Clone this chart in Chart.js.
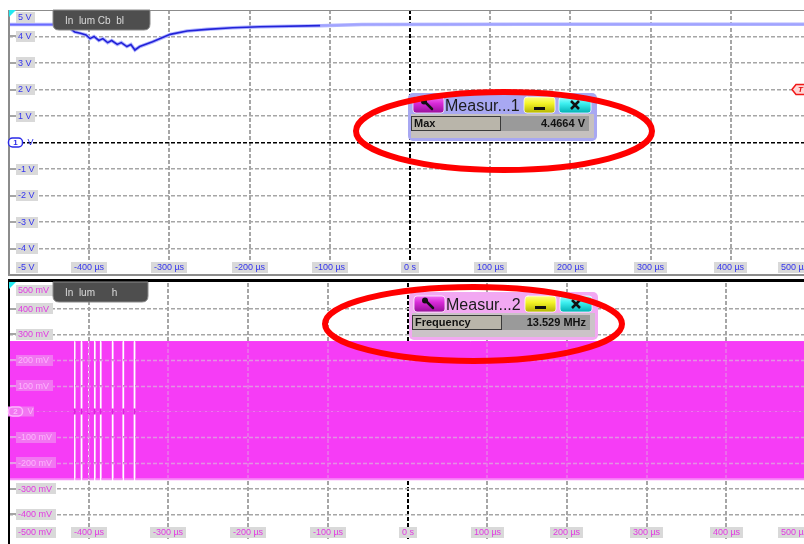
<!DOCTYPE html>
<html>
<head>
    <title>Scope Measurements</title>
    <script src="https://cdn.jsdelivr.net/npm/chart.js"></script>
    <style>
        html, body { margin: 0; padding: 0; background: #fff; }
        #wrap { position: relative; width: 804px; height: 544px; overflow: hidden; }
        #wrap canvas { position: absolute; left: 0; }
        #ch1 { top: 0; }
        #ch2 { top: 277px; }
    </style>
</head>
<body>
<div id="wrap">
    <canvas id="ch1" width="812" height="277"></canvas>
    <canvas id="ch2" width="812" height="269"></canvas>
</div>

<script>
    // Time axis, microseconds
    const timeTicks = [-400, -300, -200, -100, 0, 100, 200, 300, 400, 500];
    const timeTickLabels = ['-400 µs', '-300 µs', '-200 µs', '-100 µs', '0 s', '100 µs', '200 µs', '300 µs', '400 µs', '500 µs'];

    // Channel 1 (volts)
    const ch1Ticks = [5, 4, 3, 2, 1, -1, -2, -3, -4, -5];
    const ch1TickLabels = ['5 V', '4 V', '3 V', '2 V', '1 V', '-1 V', '-2 V', '-3 V', '-4 V', '-5 V'];
    const ch1Time = [-500, -443, -427, -421, -418, -411, -404, -399, -394, -388, -383, -377, -372, -365, -360,
                     -353, -348, -343, -337, -321, -299, -278, -253, -221, -187, -112, -60, 150, 500];
    const ch1Volts = [4.45, 4.45, 4.44, 4.24, 4.17, 4.12, 4.06, 3.92, 4.00, 3.85, 3.92, 3.77, 3.85, 3.70, 3.77,
                      3.62, 3.70, 3.49, 3.62, 3.80, 4.08, 4.21, 4.27, 4.33, 4.37, 4.41, 4.45, 4.4664, 4.46];

    // Channel 2 (millivolts): envelope of the clock plus the dropouts
    const ch2Ticks = [500, 400, 300, 200, 100, -100, -200, -300, -400, -500];
    const ch2TickLabels = ['500 mV', '400 mV', '300 mV', '200 mV', '100 mV', '-100 mV', '-200 mV', '-300 mV', '-400 mV', '-500 mV'];
    const ch2High = 272;
    const ch2Low = -264;
    const ch2GapTimes = [-417.5, -409, -400, -392.5, -385, -370, -356.5, -342.5];
    const ch2GapWidths = [1.4, 1.8, 0.8, 1.8, 1.8, 1.8, 1.8, 1.8];

    const meas1 = { title: 'Measur...1', label: 'Max', value: '4.4664 V' };
    const meas2 = { title: 'Measur...2', label: 'Frequency', value: '13.529 MHz' };

    const labelFont = '9px "Liberation Sans", Arial, sans-serif';
    const gridGray = '#a6a6a6';

    function roundRectPath(ctx, x, y, w, h, r) {
        ctx.beginPath();
        ctx.moveTo(x + r, y);
        ctx.arcTo(x + w, y, x + w, y + h, r);
        ctx.arcTo(x + w, y + h, x, y + h, r);
        ctx.arcTo(x, y + h, x, y, r);
        ctx.arcTo(x, y, x + w, y, r);
        ctx.closePath();
    }

    // Gray label boxes for the volt and time ticks, drawn inside the plot
    function drawTickLabels(chart, yTicks, yLabels, textColor, onBand) {
        const { ctx, chartArea: a, scales } = chart;
        const yMin = a.top + 7, yMax = a.bottom - 7.5;
        ctx.save();
        ctx.font = labelFont;
        ctx.textBaseline = 'middle';
        ctx.textAlign = 'left';
        yTicks.forEach((v, i) => {
            const py = scales.y.getPixelForValue(v);
            const cy = Math.min(Math.max(py, yMin), yMax);
            const band = onBand && onBand(v);
            const text = yLabels[i];
            const w = Math.ceil(ctx.measureText(text).width) + 5;
            if (py > a.top + 2 && py < a.bottom - 2) {
                ctx.fillStyle = band ? '#e69ce6' : gridGray;
                ctx.fillRect(a.left, Math.round(py) - 1, 8, 2);
            }
            ctx.fillStyle = band ? '#f276f2' : '#d9d9d9';
            ctx.fillRect(16, Math.round(cy - 5.5), w, 11);
            ctx.fillStyle = band ? '#fcb6fc' : textColor;
            ctx.fillText(text, 18, cy + 0.5);
        });
        ctx.textAlign = 'center';
        timeTicks.forEach((t, i) => {
            const px = scales.x.getPixelForValue(t);
            const text = timeTickLabels[i];
            const w = Math.ceil(ctx.measureText(text).width) + 5;
            let left = Math.round(px - w / 2);
            left = Math.min(left, chart.width - 1 - w);
            ctx.fillStyle = '#d9d9d9';
            ctx.fillRect(left, Math.round(yMax - 5.5), w, 11);
            ctx.fillStyle = textColor;
            ctx.fillText(text, left + w / 2, yMax + 0.5);
        });
        ctx.restore();
    }

    function drawTab(ctx, x, y, w, h, text) {
        ctx.save();
        ctx.beginPath();
        ctx.moveTo(x, y);
        ctx.lineTo(x + w, y);
        ctx.lineTo(x + w, y + h - 6);
        ctx.quadraticCurveTo(x + w, y + h, x + w - 6, y + h);
        ctx.lineTo(x + 6, y + h);
        ctx.quadraticCurveTo(x, y + h, x, y + h - 6);
        ctx.closePath();
        ctx.fillStyle = '#4e4e4e';
        ctx.fill();
        ctx.strokeStyle = '#8a8a8a';
        ctx.lineWidth = 1;
        ctx.stroke();
        ctx.fillStyle = 'rgba(240,240,240,0.85)';
        ctx.font = '10px "Liberation Sans", Arial, sans-serif';
        ctx.textBaseline = 'middle';
        ctx.fillText(text, x + 12, y + h / 2 + 1);
        ctx.restore();
    }

    function drawCorner(ctx, x, y) {
        ctx.fillStyle = '#22e8f0';
        ctx.beginPath();
        ctx.moveTo(x, y);
        ctx.lineTo(x + 7, y);
        ctx.lineTo(x, y + 7);
        ctx.closePath();
        ctx.fill();
    }

    function drawChannelTag(ctx, x, cy, num, stroke, fill, textColor) {
        ctx.save();
        roundRectPath(ctx, x, cy - 4.5, 14, 9, 4);
        ctx.fillStyle = fill;
        ctx.fill();
        ctx.strokeStyle = stroke;
        ctx.lineWidth = 1.5;
        ctx.stroke();
        ctx.fillStyle = textColor;
        ctx.font = 'bold 8px "Liberation Sans", Arial, sans-serif';
        ctx.textBaseline = 'middle';
        ctx.textAlign = 'center';
        ctx.fillText(num, x + 7, cy + 0.5);
        ctx.font = labelFont;
        ctx.textAlign = 'left';
        ctx.fillText('V', x + 19, cy + 0.5);
        ctx.restore();
    }

    function button(ctx, x, y, w, h, top, mid, bottom) {
        const g = ctx.createLinearGradient(0, y, 0, y + h);
        g.addColorStop(0, top);
        g.addColorStop(0.4, mid);
        g.addColorStop(1, bottom);
        roundRectPath(ctx, x, y, w, h, 3);
        ctx.fillStyle = g;
        ctx.fill();
        ctx.strokeStyle = 'rgba(255,255,255,0.75)';
        ctx.lineWidth = 1;
        ctx.stroke();
    }

    // Measurement readout window
    function drawMeasBox(ctx, x, y, m, rim, body) {
        const w = 189, h = 48;
        ctx.save();
        roundRectPath(ctx, x, y, w, h, 5);
        ctx.fillStyle = rim;
        ctx.fill();
        ctx.fillStyle = body;
        ctx.fillRect(x + 3, y + 21, w - 6, h - 24);

        button(ctx, x + 5, y + 4, 31, 16, '#f46cf4', '#d82ad8', '#98109a');
        ctx.strokeStyle = '#111';
        ctx.fillStyle = '#111';
        ctx.lineWidth = 2.5;
        ctx.lineCap = 'round';
        ctx.beginPath();
        ctx.moveTo(x + 17, y + 9);
        ctx.lineTo(x + 24, y + 16);
        ctx.stroke();
        ctx.beginPath();
        ctx.arc(x + 16, y + 8.5, 3, 0, Math.PI * 2);
        ctx.fill();

        ctx.fillStyle = '#1c1c1c';
        ctx.font = '16px "Liberation Sans", Arial, sans-serif';
        ctx.textBaseline = 'alphabetic';
        ctx.fillText(m.title, x + 37, y + 18);

        button(ctx, x + 116, y + 4, 31, 16, '#ffff80', '#f4f428', '#b4b400');
        ctx.fillStyle = '#111';
        ctx.fillRect(x + 126, y + 14, 11, 3);

        button(ctx, x + 151, y + 4, 32, 16, '#a0ffff', '#3ef0f0', '#00b0b4');
        ctx.strokeStyle = '#111';
        ctx.lineWidth = 2.5;
        ctx.lineCap = 'butt';
        ctx.beginPath();
        ctx.moveTo(x + 163, y + 8); ctx.lineTo(x + 171, y + 16);
        ctx.moveTo(x + 171, y + 8); ctx.lineTo(x + 163, y + 16);
        ctx.stroke();

        ctx.fillStyle = '#b9b5aa';
        ctx.fillRect(x + 3, y + 23, 90, 15);
        ctx.fillStyle = '#9a9a9a';
        ctx.fillRect(x + 93, y + 23, 88, 15);
        ctx.strokeStyle = '#3a3a3a';
        ctx.lineWidth = 1;
        ctx.strokeRect(x + 3.5, y + 23.5, 89, 14);

        ctx.fillStyle = '#111';
        ctx.font = 'bold 11px "Liberation Sans", Arial, sans-serif';
        ctx.textBaseline = 'middle';
        ctx.fillText(m.label, x + 6, y + 31);
        ctx.textAlign = 'right';
        ctx.fillText(m.value, x + 177, y + 31);
        ctx.restore();
    }

    function drawEllipse(ctx, cx, cy, rx, ry) {
        ctx.save();
        ctx.strokeStyle = '#ff0000';
        ctx.lineWidth = 6;
        ctx.beginPath();
        ctx.ellipse(cx, cy, rx, ry, 0, 0, Math.PI * 2);
        ctx.stroke();
        ctx.restore();
    }

    function gridOptions(edgeMin, edgeMax, width, zeroColor) {
        return {
            drawTicks: false,
            color: c => (c.tick.value === edgeMin || c.tick.value === edgeMax) ? 'rgba(0,0,0,0)'
                : c.tick.value === 0 ? zeroColor : gridGray,
            lineWidth: c => c.tick.value === 0 ? 1.5 : width
        };
    }

    const baseOptions = (yMin, yMax, yStep, padTop, padBottom, yZero) => ({
        responsive: false,
        animation: false,
        events: [],
        layout: { padding: { left: 9, top: padTop, right: 1, bottom: padBottom } },
        plugins: { legend: { display: false }, tooltip: { enabled: false } },
        scales: {
            x: {
                type: 'linear', min: -500, max: 500,
                ticks: { display: false, stepSize: 100 },
                grid: { drawTicks: false,
                        color: c => Math.abs(c.tick.value) === 500 ? 'rgba(0,0,0,0)' : c.tick.value === 0 ? '#000' : gridGray,
                        lineWidth: 2 },
                border: { display: false, dash: [4, 2] }
            },
            y: {
                min: yMin, max: yMax,
                ticks: { display: false, stepSize: yStep },
                grid: gridOptions(yMin, yMax, 1.5, yZero),
                border: { display: false, dash: [4, 2] }
            }
        }
    });

    // ---- Channel 1 panel ----
    const ch1Points = ch1Time.map((t, i) => ({ x: t, y: ch1Volts[i] }));

    const panel1 = {
        id: 'panel1',
        afterDatasetsDraw(chart) {
            drawTickLabels(chart, ch1Ticks, ch1TickLabels, '#3434ee', null);
        },
        afterDraw(chart) {
            const { ctx, chartArea: a, scales } = chart;
            ctx.save();
            ctx.fillStyle = '#8c8c8c';
            ctx.fillRect(a.left, a.top, chart.width, 1);
            ctx.fillRect(a.left - 1, a.top, 2, a.bottom - a.top);
            ctx.fillRect(a.left - 1, a.bottom - 1, chart.width, 2);
            drawCorner(ctx, a.left, a.top);
            drawTab(ctx, 53, 10, 97, 20, 'In  lum Cb  bl');
            drawChannelTag(ctx, 8.5, scales.y.getPixelForValue(0), '1', '#2a2ae8', '#fff', '#2a2ae8');

            // trigger level marker at the right edge
            const ty = scales.y.getPixelForValue(2);
            ctx.beginPath();
            ctx.moveTo(792, ty);
            ctx.lineTo(796, ty - 5);
            ctx.lineTo(808, ty - 5);
            ctx.lineTo(808, ty + 5);
            ctx.lineTo(796, ty + 5);
            ctx.closePath();
            ctx.fillStyle = '#ffd6d6';
            ctx.fill();
            ctx.strokeStyle = '#f01818';
            ctx.lineWidth = 1.5;
            ctx.stroke();
            ctx.fillStyle = '#e01010';
            ctx.font = 'italic bold 8px "Liberation Sans", Arial, sans-serif';
            ctx.textBaseline = 'middle';
            ctx.fillText('T', 798, ty + 0.5);

            drawMeasBox(ctx, 408, 93, meas1, '#a8a8f2', '#c6c1bf');
            drawEllipse(ctx, 504, 131, 148, 39);
            ctx.restore();
        }
    };

    new Chart(document.getElementById('ch1'), {
        type: 'line',
        data: {
            datasets: [
                {
                    data: ch1Points, borderWidth: 1.6, pointRadius: 0, borderColor: '#2424dc',
                    segment: {
                        borderColor: c => {
                            const t = c.p0.parsed.x;
                            if (t < -430) return '#6a6aff';
                            if (t < -180) return '#2222d8';
                            return 'rgba(150,150,255,0.55)';
                        }
                    }
                },
                { data: ch1Points, borderWidth: 3.5, pointRadius: 0, borderColor: '#b0b4ff' }
            ]
        },
        options: baseOptions(-5, 5, 1, 10, 2, '#000'),
        plugins: [panel1]
    });

    // ---- Channel 2 panel ----
    function envelope(level) {
        const pts = [{ x: -500, y: level }];
        ch2GapTimes.forEach((g, i) => {
            const h = ch2GapWidths[i] / 2;
            pts.push({ x: g - h, y: level }, { x: g, y: null }, { x: g + h, y: level });
        });
        pts.push({ x: 500, y: level });
        return pts;
    }

    const bandColor = '#f63cf6';

    const panel2 = {
        id: 'panel2',
        afterDatasetsDraw(chart) {
            const { ctx, chartArea: a, scales } = chart;
            // grid showing through the dense waveform
            const yHi = scales.y.getPixelForValue(ch2High);
            const yLo = scales.y.getPixelForValue(ch2Low);
            ctx.save();
            ctx.beginPath();
            ctx.rect(a.left, yHi + 1, a.right - a.left, yLo - yHi - 2);
            ctx.clip();
            ctx.setLineDash([4, 2]);
            ctx.lineWidth = 1.5;
            ctx.strokeStyle = '#e292e2';
            ch2Ticks.forEach(v => {
                const py = Math.round(scales.y.getPixelForValue(v)) + 0.5;
                ctx.beginPath(); ctx.moveTo(a.left, py); ctx.lineTo(a.right, py); ctx.stroke();
            });
            ctx.strokeStyle = '#e87ae8';
            timeTicks.forEach(t => {
                if (t === 0) return;
                const px = Math.round(scales.x.getPixelForValue(t));
                ctx.beginPath(); ctx.moveTo(px, a.top); ctx.lineTo(px, a.bottom); ctx.stroke();
            });
            ctx.restore();
            drawTickLabels(chart, ch2Ticks, ch2TickLabels, '#e23ae2', v => v < ch2High && v > ch2Low);
        },
        afterDraw(chart) {
            const { ctx, chartArea: a, scales } = chart;
            ctx.save();
            ctx.fillStyle = '#000';
            ctx.fillRect(a.left, 2, chart.width, 3);
            ctx.fillRect(a.left - 1, 2, 2, chart.height);
            drawCorner(ctx, a.left, 5);
            // page coordinates for the overlays
            ctx.translate(0, -277);
            drawTab(ctx, 53, 282, 95, 20, 'In  lum      h');
            const zy = scales.y.getPixelForValue(0) + 277;
            ctx.fillStyle = '#f276f2';
            ctx.fillRect(8, zy - 5, 26, 10);
            drawChannelTag(ctx, 8.5, zy, '2', '#fcb6fc', '#f276f2', '#fcb6fc');
            drawMeasBox(ctx, 409, 292, meas2, '#f2a8f2', '#cbc3c8');
            drawEllipse(ctx, 473.5, 324, 148.5, 37);
            ctx.restore();
        }
    };

    new Chart(document.getElementById('ch2'), {
        type: 'line',
        data: {
            datasets: [
                {
                    data: ch2GapTimes.map(t => ({ x: t, y: 0 })), showLine: false,
                    pointStyle: 'line', rotation: 90, pointRadius: 3, borderWidth: 2,
                    pointBorderColor: '#e01ee0'
                },
                { data: envelope(ch2High), borderColor: bandColor, borderWidth: 1, pointRadius: 0,
                  backgroundColor: bandColor, fill: 'origin', spanGaps: false },
                { data: envelope(ch2Low), borderColor: '#f78cf7', borderWidth: 2, pointRadius: 0,
                  backgroundColor: bandColor, fill: 'origin', spanGaps: false }
            ]
        },
        options: baseOptions(-500, 500, 100, 3, 0, gridGray),
        plugins: [panel2]
    });
</script>
</body>
</html>
